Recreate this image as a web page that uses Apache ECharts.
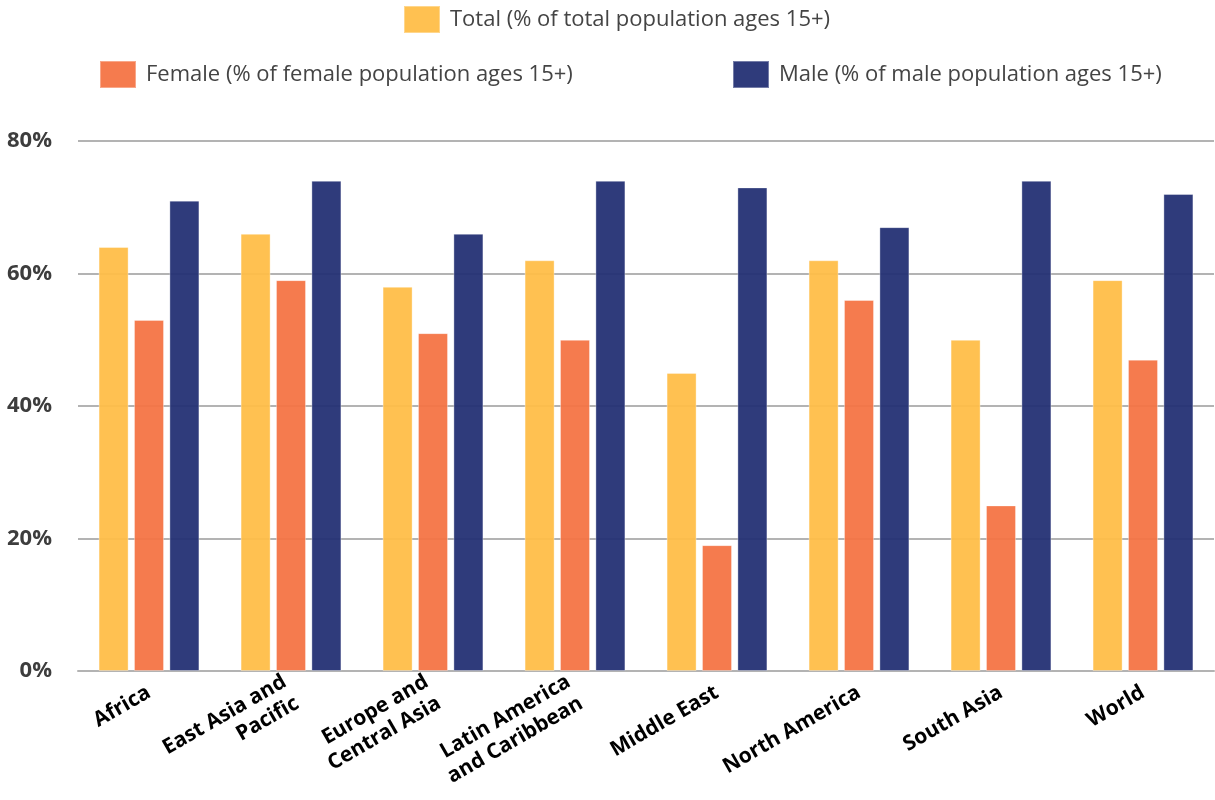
<!DOCTYPE html>
<html><head><meta charset="utf-8">
<script src="https://cdn.jsdelivr.net/npm/echarts@6/dist/echarts.min.js"></script>
<style>html,body{margin:0;padding:0;background:#fff}#c{width:1215px;height:800px}</style>
</head><body><div id="c"></div>
<script>
const categories = ['Africa','East Asia and\nPacific','Europe and\nCentral Asia','Latin America\nand Caribbean','Middle East','North America','South Asia','World'];
const totalName = 'Total (% of total population ages 15+)';
const femaleName = 'Female (% of female population ages 15+)';
const maleName = 'Male (% of male population ages 15+)';
const totalValues = [64, 66, 58, 62, 45, 62, 50, 59];
const femaleValues = [53, 59, 51, 50, 19, 56, 25, 47];
const maleValues = [71, 74, 66, 74, 73, 67, 74, 72];
const yTicks = [0, 20, 40, 60, 80];

const FONT = 'Open Sans';
const chart = echarts.init(document.getElementById('c'));
const legendText = {fontFamily: FONT, fontSize: 22, color: '#444', padding: [0, 0, 0, 5]};
function mkSeries(name, data, color) {
  return {name, type: 'bar', data, barGap: '18%', barCategoryGap: '29%',
    itemStyle: {color, opacity: 0.95, borderColor: 'rgba(255,255,255,0.35)', borderWidth: 1}};
}
chart.setOption({
  animation: false,
  legend: [
    {data: [totalName], top: 0, left: 398, itemWidth: 36, itemHeight: 27, textStyle: legendText, icon: 'rect'},
    {data: [femaleName], top: 55, left: 94, itemWidth: 36, itemHeight: 27, textStyle: legendText, icon: 'rect'},
    {data: [maleName], top: 55, left: 727, itemWidth: 36, itemHeight: 27, textStyle: legendText, icon: 'rect'}
  ],
  grid: {left: 78, right: 1, top: 141, bottom: 129},
  xAxis: {type: 'category', data: categories,
    axisLine: {lineStyle: {color: '#b3b3b3', width: 2}}, axisTick: {show: false},
    axisLabel: {rotate: 30, interval: 0, margin: 20, fontFamily: FONT, fontWeight: 'bold', fontSize: 21, color: '#000', lineHeight: 25}},
  yAxis: {type: 'value', min: yTicks[0], max: yTicks[yTicks.length-1], interval: 20,
    axisLine: {show: false}, axisTick: {show: false},
    splitLine: {lineStyle: {color: '#b3b3b3', width: 2}},
    axisLabel: {margin: 26, fontFamily: FONT, fontWeight: 'bold', fontSize: 22, color: '#3d3d3d', formatter: v => v + '%'}},
  series: [
    mkSeries(totalName, totalValues, '#FFBE48'),
    mkSeries(femaleName, femaleValues, '#F47445'),
    mkSeries(maleName, maleValues, '#243074')
  ]
});
</script></body></html>
